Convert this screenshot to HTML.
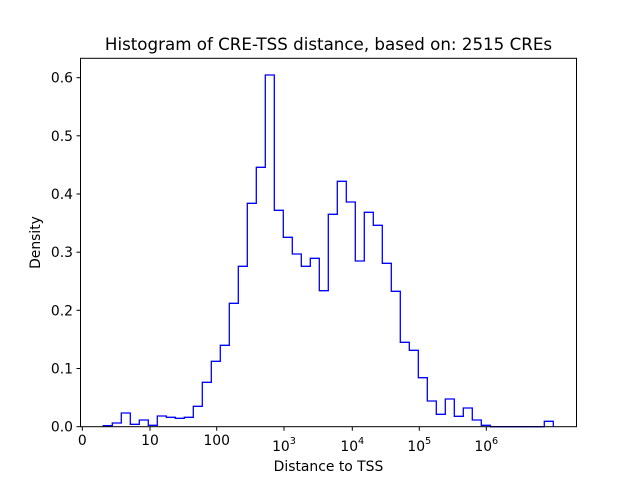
<!DOCTYPE html>
<html><head><meta charset="utf-8"><style>body{margin:0;background:#fff}svg{display:block}text{font-family:"DejaVu Sans","Liberation Sans",sans-serif;fill:#000}</style></head><body>
<svg width="640" height="480" viewBox="0 0 640 480">
<rect width="640" height="480" fill="#fff"/>
<path fill="none" stroke="#0000ff" stroke-width="1.3" d="M103.3,426.7 V425.7 H112.3 V423 H121.3 V413 H130.3 V424.3 H139.3 V420 H148.3 V425.3 H157.3 V416 H166.3 V417.3 H175.3 V418.3 H184.3 V417.3 H193.3 V406.3 H202.3 V382.3 H211.3 V361.3 H220.3 V345.3 H229.3 V303.3 H238.3 V266.3 H247.3 V203.3 H256.3 V167.3 H265.3 V75 H274.3 V210.3 H283.3 V237.3 H292.3 V254 H301.3 V266.3 H310.3 V258.3 H319.3 V290.7 H328.3 V214.3 H337.3 V181.3 H346.3 V202 H355.3 V261 H364.3 V212.3 H373.3 V225.3 H382.3 V263.3 H391.3 V291.3 H400.3 V342.3 H409.3 V350.3 H418.3 V377.7 H427.3 V401 H436.3 V414.3 H445.3 V399 H454.3 V416.3 H463.3 V408 H472.3 V420 H481.3 V425.3 H490.3 V426.7 H544.3 V421.3 H553.3 V426.7"/>
<rect x="80.5" y="58.3" width="496" height="368.4" fill="none" stroke="#000" stroke-width="1"/>
<g stroke="#000" stroke-width="1">
<line x1="76.5" x2="80.5" y1="426.7" y2="426.7"/><line x1="76.5" x2="80.5" y1="368.5" y2="368.5"/><line x1="76.5" x2="80.5" y1="310.3" y2="310.3"/><line x1="76.5" x2="80.5" y1="252.2" y2="252.2"/><line x1="76.5" x2="80.5" y1="194" y2="194"/><line x1="76.5" x2="80.5" y1="135.8" y2="135.8"/><line x1="76.5" x2="80.5" y1="77.7" y2="77.7"/>
<line x1="82.3" x2="82.3" y1="426.7" y2="430.7"/><line x1="150" x2="150" y1="426.7" y2="430.7"/><line x1="216.7" x2="216.7" y1="426.7" y2="430.7"/><line x1="284" x2="284" y1="426.7" y2="430.7"/><line x1="352.3" x2="352.3" y1="426.7" y2="430.7"/><line x1="419.3" x2="419.3" y1="426.7" y2="430.7"/><line x1="486.3" x2="486.3" y1="426.7" y2="430.7"/>
</g>
<g font-size="13.9" text-anchor="end">
<text x="73" y="431.7">0.0</text><text x="73" y="373.5">0.1</text><text x="73" y="315.3">0.2</text><text x="73" y="257.2">0.3</text><text x="73" y="199">0.4</text><text x="73" y="140.8">0.5</text><text x="73" y="82.7">0.6</text>
</g>
<g font-size="13.9" text-anchor="middle">
<text x="82.3" y="445">0</text><text x="150" y="445">10</text><text x="216.7" y="445">100</text>
<text x="284" y="451">10<tspan font-size="9.7" dy="-7">3</tspan></text>
<text x="352.3" y="451">10<tspan font-size="9.7" dy="-7">4</tspan></text>
<text x="419.3" y="451">10<tspan font-size="9.7" dy="-7">5</tspan></text>
<text x="486.3" y="451">10<tspan font-size="9.7" dy="-7">6</tspan></text>
<text x="328.5" y="471">Distance to TSS</text>
</g>
<text font-size="13.9" text-anchor="middle" transform="translate(40,242.5) rotate(-90)">Density</text>
<text font-size="16.7" text-anchor="middle" x="328.5" y="50">Histogram of CRE-TSS distance, based on: 2515 CREs</text>
</svg>
</body></html>
